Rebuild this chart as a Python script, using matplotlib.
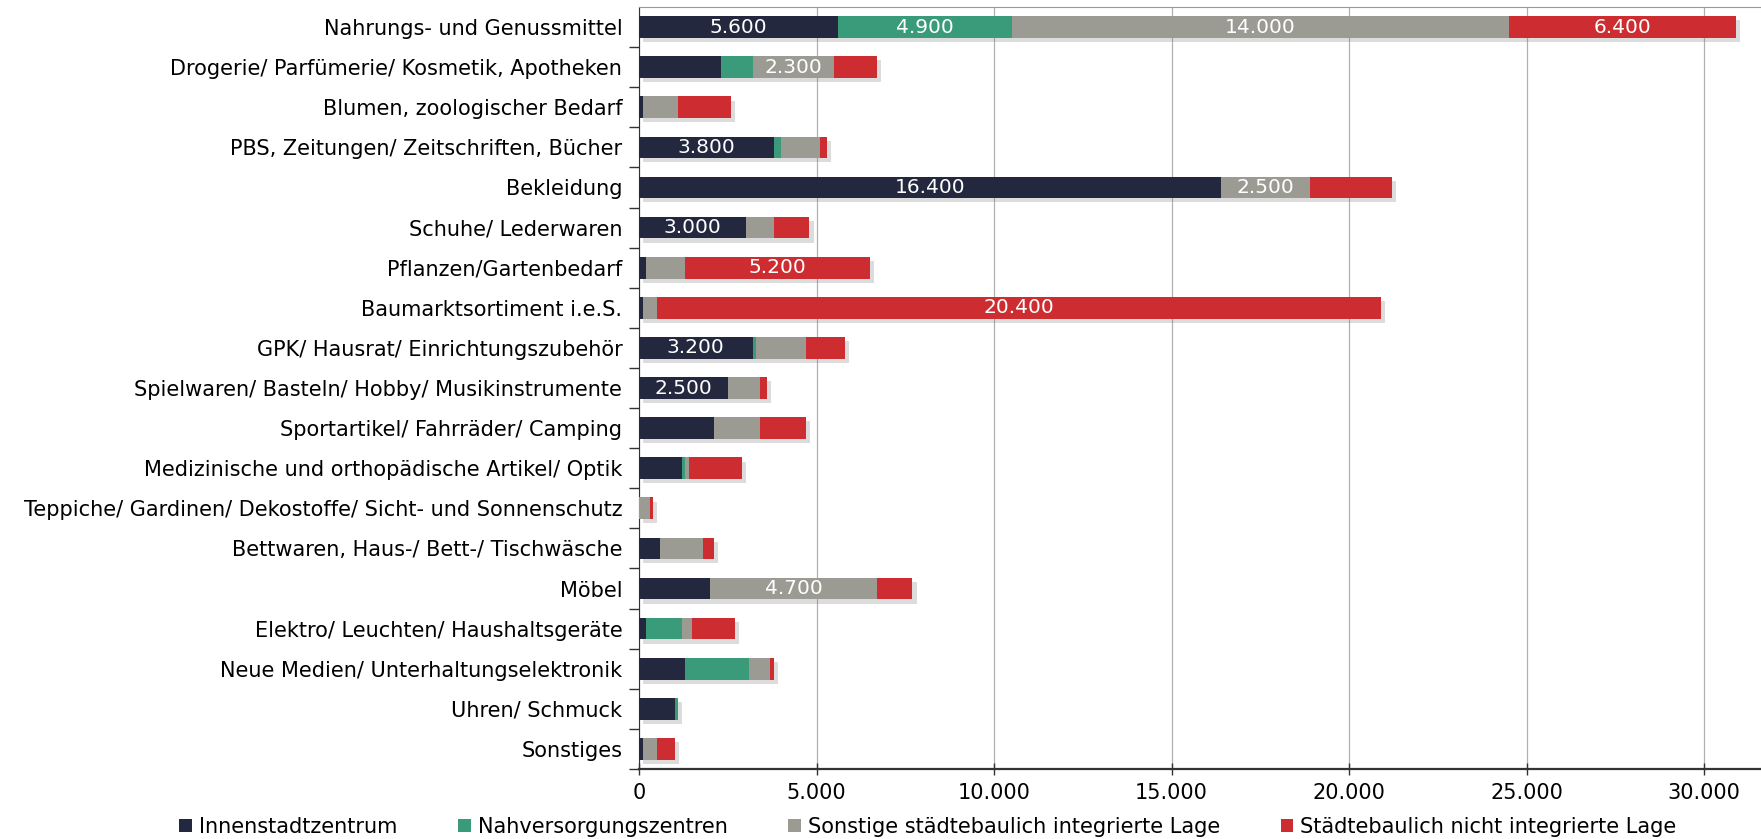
import matplotlib
matplotlib.use("Agg")
import matplotlib.pyplot as plt
import matplotlib.patheffects as pe
from matplotlib.patches import Patch
from matplotlib.ticker import FuncFormatter, FixedLocator
import numpy as np

categories = ["Nahrungs- und Genussmittel", "Drogerie/ Parfümerie/ Kosmetik, Apotheken",
              "Blumen, zoologischer Bedarf", "PBS, Zeitungen/ Zeitschriften, Bücher", "Bekleidung",
              "Schuhe/ Lederwaren", "Pflanzen/Gartenbedarf", "Baumarktsortiment i.e.S.",
              "GPK/ Hausrat/ Einrichtungszubehör", "Spielwaren/ Basteln/ Hobby/ Musikinstrumente",
              "Sportartikel/ Fahrräder/ Camping", "Medizinische und orthopädische Artikel/ Optik",
              "Teppiche/ Gardinen/ Dekostoffe/ Sicht- und Sonnenschutz", "Bettwaren, Haus-/ Bett-/ Tischwäsche",
              "Möbel", "Elektro/ Leuchten/ Haushaltsgeräte", "Neue Medien/ Unterhaltungselektronik",
              "Uhren/ Schmuck", "Sonstiges"]

series = ["Innenstadtzentrum", "Nahversorgungszentren",
          "Sonstige städtebaulich integrierte Lage", "Städtebaulich nicht integrierte Lage"]

innenstadt = [5600, 2300, 100, 3800, 16400, 3000, 200, 100, 3200, 2500, 2100, 1200, 0, 600, 2000, 200, 1300, 1000, 100]
nahversorgung = [4900, 900, 0, 200, 0, 0, 0, 0, 100, 0, 0, 100, 0, 0, 0, 1000, 1800, 100, 0]
sonstige_int = [14000, 2300, 1000, 1100, 2500, 800, 1100, 400, 1400, 900, 1300, 100, 300, 1200, 4700, 300, 600, 0, 400]
nicht_int = [6400, 1200, 1500, 200, 2300, 1000, 5200, 20400, 1100, 200, 1300, 1500, 100, 300, 1000, 1200, 100, 0, 500]

# segments that carry a value label: (category index, series index)
labelled = [(0, 0), (0, 1), (0, 2), (0, 3), (1, 2), (3, 0), (4, 0), (4, 2), (5, 0),
            (6, 3), (7, 3), (8, 0), (9, 0), (14, 2)]

colors = ["#23283f", "#3a9b7a", "#9b9b94", "#cd2d30"]

plt.rcParams['font.family'] = ['DejaVu Sans']
FS = 15

fig = plt.figure(figsize=(17.61, 8.39), dpi=100)
ax = fig.add_axes([639 / 1761, 1 - 769 / 839, 1 - 639 / 1761, (769 - 7) / 839])

data = [innenstadt, nahversorgung, sonstige_int, nicht_int]
y = np.arange(len(categories))
left = np.zeros(len(categories))
shadow = [pe.SimplePatchShadow(offset=(3, -3), shadow_rgbFace="#777777", alpha=0.25), pe.Normal()]
for s, vals in enumerate(data):
    vals = np.array(vals, dtype=float)
    bars = ax.barh(y, vals, left=left, height=0.54, color=colors[s], zorder=3)
    for b in bars:
        b.set_path_effects(shadow)
    for (ci, si) in labelled:
        if si == s:
            txt = f"{int(vals[ci]):,}".replace(",", ".")
            ax.text(left[ci] + vals[ci] / 2, ci, txt, ha="center", va="center",
                    color="white", fontsize=14.5, zorder=5)
    left += vals

ax.set_xlim(0, 31600)
ax.set_ylim(len(categories) - 0.5, -0.5)
ax.set_yticks(y)
ax.set_yticklabels(categories, fontsize=FS)
ax.tick_params(axis="y", length=0, pad=12)
ax.yaxis.set_minor_locator(FixedLocator(np.arange(len(categories)) + 0.5))
ax.tick_params(axis="y", which="minor", length=7, width=1, color="#333333")

ax.set_xticks(np.arange(0, 30001, 5000))
ax.xaxis.set_major_formatter(FuncFormatter(lambda v, p: f"{int(v):,}".replace(",", ".")))
ax.tick_params(axis="x", direction="inout", length=8, width=1, color="#333333", labelsize=FS, pad=6)
ax.grid(axis="x", color="#b0b0b0", linewidth=0.9, zorder=0)

ax.spines["right"].set_visible(False)
ax.spines["top"].set_color("#999999")
ax.spines["left"].set_color("#333333")
ax.spines["bottom"].set_color("#333333")
ax.spines["bottom"].set_linewidth(1.6)

handles = [Patch(facecolor=c, edgecolor="none") for c in colors]
fig.legend(handles, series, loc="lower center", bbox_to_anchor=(0.527, -0.02), ncol=4, frameon=False,
           fontsize=FS, handlelength=0.6, handleheight=0.6, handletextpad=0.35, columnspacing=2.9)

fig.savefig("out.png", dpi=100)
